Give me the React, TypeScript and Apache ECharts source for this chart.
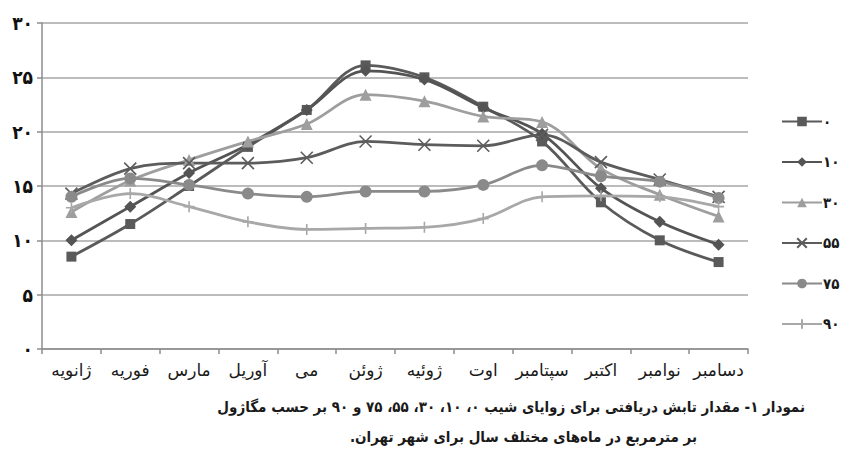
import React, { useEffect, useRef } from "react";
import * as echarts from "echarts";

const months = ["ژانویه", "فوریه", "مارس", "آوریل", "می", "ژوئن", "ژوئیه", "اوت", "سپتامبر", "اکتبر", "نوامبر", "دسامبر"];
const seriesNames = ["۰", "۱۰", "۳۰", "۵۵", "۷۵", "۹۰"];
const s0 = [8.5, 11.5, 15.0, 18.6, 22.0, 26.1, 25.0, 22.3, 19.1, 13.5, 10.0, 8.0];
const s10 = [10.0, 13.1, 16.2, 18.8, 22.0, 25.6, 24.8, 22.2, 19.8, 14.8, 11.7, 9.6];
const s30 = [12.6, 15.5, 17.4, 19.1, 20.7, 23.4, 22.8, 21.4, 20.9, 16.6, 14.2, 12.2];
const s55 = [14.3, 16.6, 17.1, 17.1, 17.6, 19.1, 18.8, 18.7, 19.7, 17.2, 15.6, 14.0];
const s75 = [14.0, 15.7, 15.1, 14.3, 14.0, 14.5, 14.5, 15.1, 16.9, 15.9, 15.4, 13.9];
const s90 = [13.0, 14.3, 13.1, 11.7, 11.0, 11.1, 11.2, 12.0, 14.0, 14.1, 14.0, 13.1];
const caption1 = "\u200Fنمودار ۱- مقدار تابش دریافتی برای زوایای شیب ۰، ۱۰، ۳۰، ۵۵، ۷۵ و ۹۰ بر حسب مگاژول\u200F";
const caption2 = "\u200Fبر مترمربع در ماه\u200Cهای مختلف سال برای شهر تهران.\u200F";

const toFa = (n: number | string) => String(n).replace(/[0-9]/g, (d) => "۰۱۲۳۴۵۶۷۸۹"[+d]);

const FONT = "DejaVu Sans";
const FONT_C = "DejaVu Sans Condensed";

export default function App() {
  const ref = useRef<HTMLDivElement>(null);
  useEffect(() => {
    if (!ref.current) return;
    const chart = echarts.init(ref.current, undefined, { renderer: "svg" });
    const mk = (
      name: string,
      data: number[],
      color: string,
      symbol: string,
      size: number,
      stroke = false
    ) => ({
      name,
      type: "line",
      data,
      smooth: 0.35,
      symbol,
      symbolSize: size,
      lineStyle: { color, width: 2.8 },
      itemStyle: stroke
        ? { color: "rgba(0,0,0,0)", borderColor: color, borderWidth: 1.6 }
        : { color, borderColor: color, borderWidth: 0 },
      z: 3,
    });
    chart.setOption({
      animation: false,
      backgroundColor: "#ffffff",
      grid: { left: 42, right: 98, top: 23, bottom: 115, containLabel: false },
      legend: {
        orient: "vertical",
        left: 776,
        top: 109,
        itemWidth: 40,
        itemHeight: 12,
        itemGap: 25.5,
        textStyle: { fontFamily: FONT_C, fontWeight: "bold", fontSize: 15, color: "#1a1a1a", padding: [0, 0, 0, -4] },
        data: seriesNames,
      },
      xAxis: {
        type: "category",
        data: months,
        boundaryGap: true,
        axisLine: { lineStyle: { color: "#8c8c8c", width: 1.5 } },
        axisTick: { show: true, length: 5, inside: false, lineStyle: { color: "#8c8c8c", width: 1.5 } },
        axisLabel: { fontFamily: FONT, fontSize: 17, color: "#1a1a1a", margin: 12, interval: 0 },
      },
      yAxis: {
        type: "value",
        min: 0,
        max: 30,
        interval: 5,
        axisLine: { show: true, lineStyle: { color: "#8c8c8c", width: 1.5 } },
        axisTick: { show: true, length: 5, lineStyle: { color: "#8c8c8c", width: 1.5 } },
        splitLine: { show: true, lineStyle: { color: "#a6a6a6", width: 1.5 } },
        axisLabel: {
          fontFamily: FONT_C,
          fontSize: 19,
          fontWeight: "bold",
          color: "#111",
          margin: 9,
          formatter: (v: number) => toFa(v),
        },
      },
      series: [
        mk(seriesNames[0], s0, "#5a5a5a", "rect", 10),
        mk(seriesNames[1], s10, "#545454", "diamond", 12),
        mk(seriesNames[2], s30, "#9e9e9e", "triangle", 12),
        mk(seriesNames[3], s55, "#5c5c5c", "path://M0,0L10,10M10,0L0,10", 12, true),
        mk(seriesNames[4], s75, "#8a8a8a", "circle", 12),
        mk(seriesNames[5], s90, "#a8a8a8", "path://M5,0L5,10M0,5L10,5", 11, true),
      ],
      graphic: [
        {
          type: "text",
          x: 805,
          y: 407,
          style: {
            text: caption1,
            fontFamily: FONT_C,
            fontSize: 15,
            fontWeight: "bold",
            fill: "#1a1a1a",
            align: "right",
            verticalAlign: "middle",
          },
        },
        {
          type: "text",
          x: 697,
          y: 437,
          style: {
            text: caption2,
            fontFamily: FONT_C,
            fontSize: 15,
            fontWeight: "bold",
            fill: "#1a1a1a",
            align: "right",
            verticalAlign: "middle",
          },
        },
      ],
    });
    return () => chart.dispose();
  }, []);
  return <div ref={ref} style={{ position: "fixed", left: 0, top: 0, width: 846, height: 464 }} />;
}
